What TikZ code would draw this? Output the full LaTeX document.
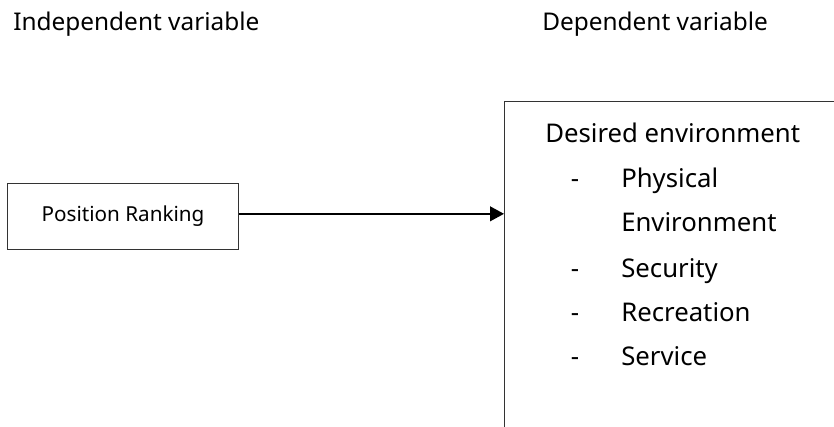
\documentclass[tikz,border=0pt]{standalone}
\usepackage{fontspec}
\setmainfont{Noto Sans}
\usetikzlibrary{arrows.meta}
\usetikzlibrary{positioning}
\tikzstyle{box}=[draw=black!80, line width=0.75pt, inner sep=0pt]
\tikzstyle{heading}=[anchor=base west, inner sep=0pt, font={\fontsize{18.3}{22}\selectfont}]
\tikzstyle{item}=[anchor=base west, inner sep=0pt, font={\fontsize{19.3}{23}\selectfont}]
\tikzstyle{link}=[-{Triangle[length=10.5pt, width=11pt]}, line width=1.5pt]

\begin{document}
\begin{tikzpicture}[x=0.75pt, y=-0.75pt]

    \useasboundingbox (0, 0) rectangle (834, 427);
    \clip (0, 0) rectangle (834, 427);

    \node[heading] (indep) at (13, 31) {Independent variable};
    \node[heading] (dep) at (542, 31) {Dependent variable};

    \node[box, minimum width=231*0.75pt, minimum height=66*0.75pt, anchor=north west,
        font={\fontsize{15.5}{18}\selectfont}] (ranking) at (7, 183) {Position Ranking};

    \node[box, minimum width=340*0.75pt, minimum height=340*0.75pt, anchor=north west] (env) at (504, 101) {};

    \node[item] (desired) at (545, 143) {Desired environment};
    \node[item] (physical) at (621, 188) {Physical};
    \node[item] (environment) at (621, 232) {Environment};
    \node[item] (security) at (621, 277) {Security};
    \node[item] (recreation) at (621, 321) {Recreation};
    \node[item] (service) at (621, 365) {Service};

    \foreach \n in {physical, security, recreation, service}
        \node[item, anchor=base] at (\n.base -| 575, 0) {-};

    \draw[link] ([yshift=2pt]ranking.east) -- ([yshift=2pt]ranking.east -| env.west);

\end{tikzpicture}
\end{document}
